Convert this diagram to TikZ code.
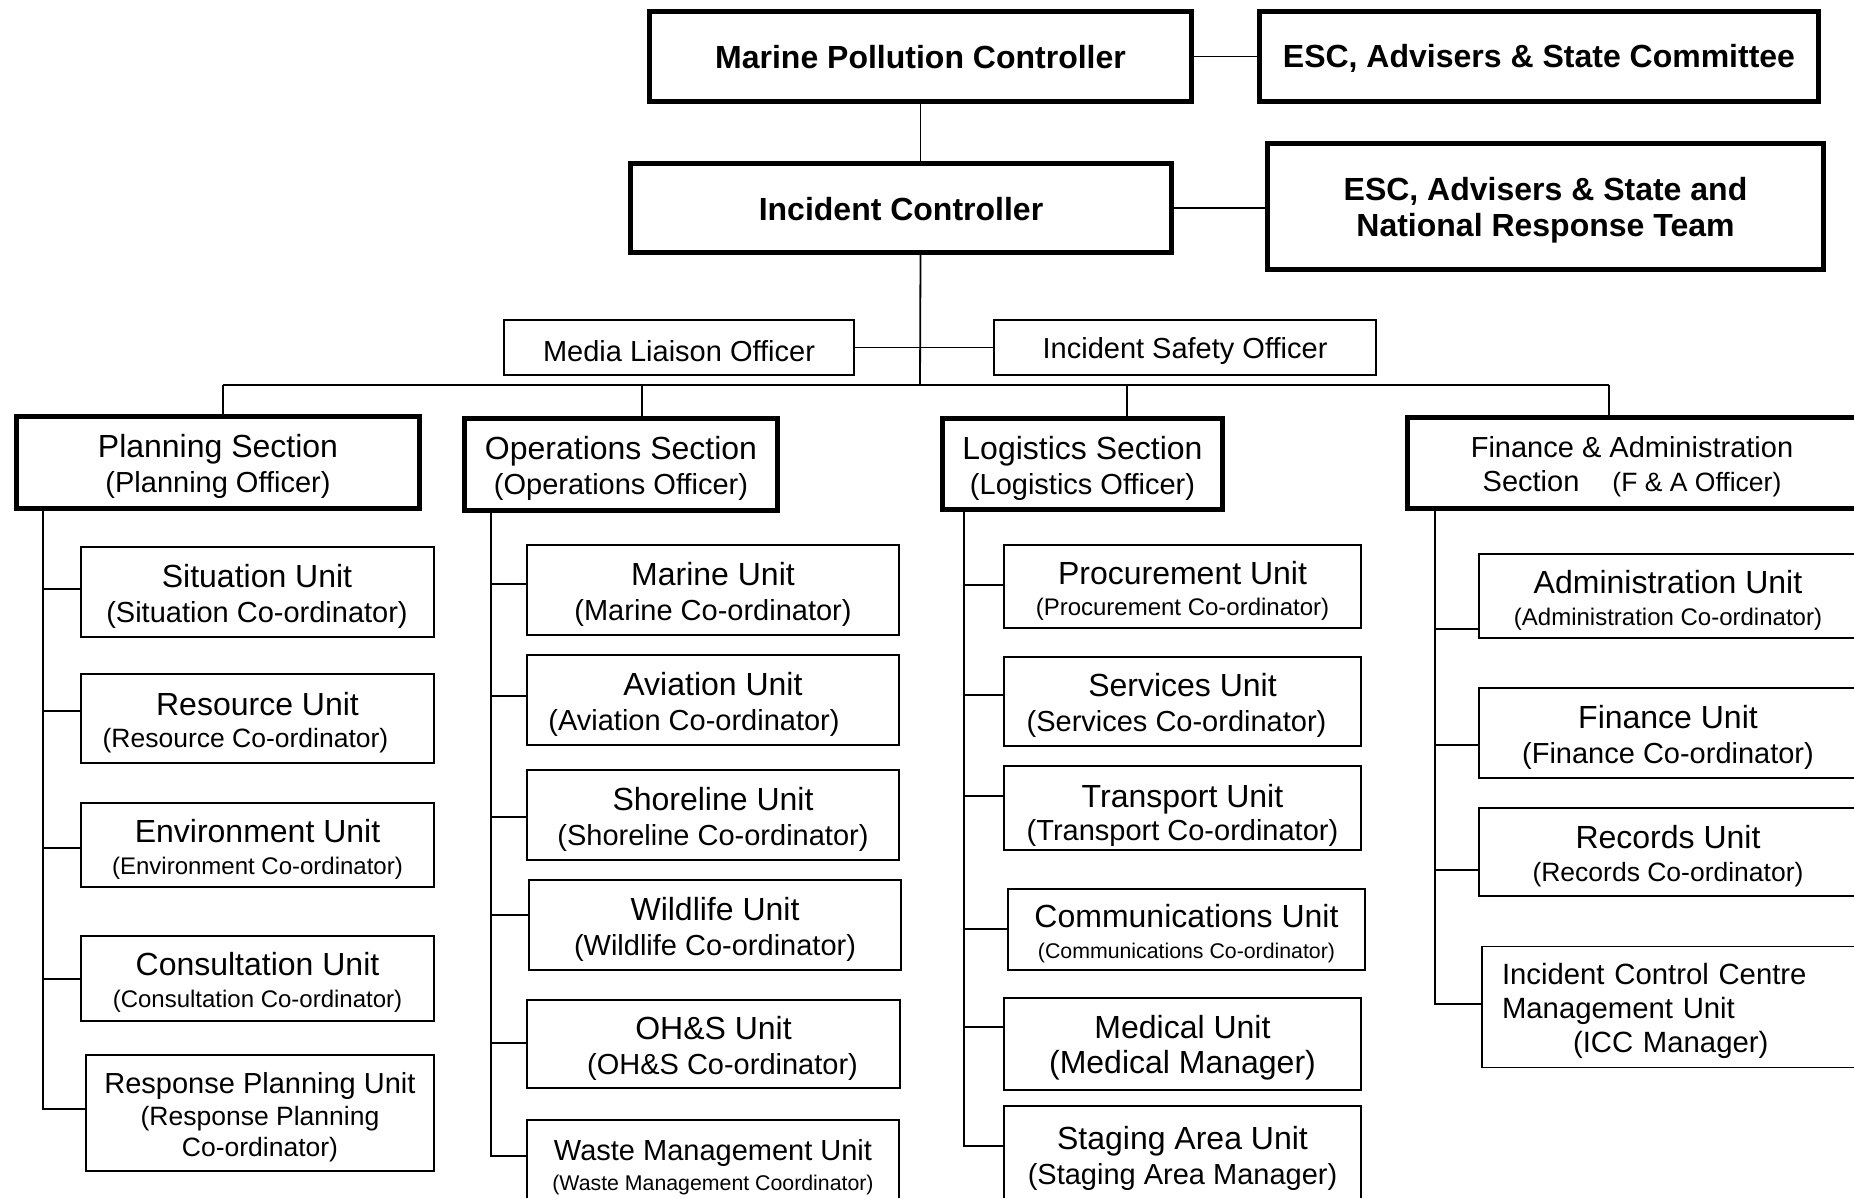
\documentclass[tikz,border=0pt]{standalone}
\usepackage{fontspec}
\setmainfont{Liberation Sans}
\newcommand{\uTitle}[1]{{\fontsize{32}{35}\selectfont #1}}
\newcommand{\uHead}[1]{{\fontsize{32}{35}\selectfont\rule{0pt}{31pt}#1}}
\newcommand{\upS}{\rule{0pt}{28.5pt}}
\newcommand{\uSubA}[1]{{\fontsize{26.5}{31}\selectfont #1}}
\newcommand{\uSubB}[1]{{\fontsize{24}{29}\selectfont #1}}
\newcommand{\uSubC}[1]{{\fontsize{21.3}{26}\selectfont #1}}
\tikzset{
  orgbox/.style={draw, line width=2pt, inner sep=0pt, align=center, font=\fontsize{29}{35}\selectfont, fill=white},
  secbox/.style={orgbox, line width=5pt},
  topbox/.style={orgbox, line width=5pt, font=\bfseries\fontsize{32}{36}\selectfont},
  thinbox/.style={orgbox, line width=1.2pt},
  conn/.style={line width=1.8pt},
}
\begin{document}
\begin{tikzpicture}[x=1pt,y=-1pt]
\useasboundingbox (0,0) rectangle (1854,1197);
\clip (0,0) rectangle (1854,1197);
\fill[white] (0,0) rectangle (1854,1197);

% top level
\node[topbox, minimum width=542, minimum height=90] (mpc) at (920.5,56.5) {\rule{0pt}{25pt}Marine Pollution Controller};
\node[topbox, minimum width=559, minimum height=90] (esc1) at (1539,56.5) {\rule{0pt}{26pt}ESC, Advisers \& State Committee};
\node[topbox, minimum width=541, minimum height=89] (ic) at (901,208) {\rule{0pt}{25pt}Incident Controller};
\node[topbox, minimum width=556, minimum height=126] (esc2) at (1545.5,206.5) {\rule{0pt}{31pt}ESC, Advisers \& State and\\National Response Team};
\node[orgbox, minimum width=350, minimum height=55] (media) at (679,347.5) {\rule{0pt}{27.5pt}Media Liaison Officer};
\node[orgbox, minimum width=382, minimum height=55] (safety) at (1185,347.5) {\rule{0pt}{27.5pt}Incident Safety Officer};

% sections
\node[secbox, minimum width=403, minimum height=92] (plan) at (218,462.5) {\uHead{Planning Section}\\(Planning Officer)};
\node[secbox, minimum width=313, minimum height=92] (ops) at (621,464.5) {\uHead{Operations Section}\\(Operations Officer)};
\node[secbox, minimum width=280, minimum height=91] (log) at (1082.5,464) {\uHead{Logistics Section}\\(Logistics Officer)};
\node[secbox, minimum width=449, minimum height=91] (fin) at (1632,463) {\upS Finance \& Administration\\[-1pt]Section\hspace{25pt} \uSubA{(F \& A Officer)}};

% planning units
\node[orgbox, minimum width=353, minimum height=90] (sit) at (257,592) {\uHead{Situation Unit}\\(Situation Co-ordinator)};
\node[orgbox, minimum width=353, minimum height=89] (res) at (257.5,718.5) {\uHead{Resource Unit}\\[-3pt]\uSubA{(Resource Co-ordinator)}\hspace*{24pt}};
\node[orgbox, minimum width=353, minimum height=84] (env) at (257.5,845) {\uHead{Environment Unit}\\[-3pt]\uSubB{(Environment Co-ordinator)}};
\node[orgbox, minimum width=353, minimum height=85] (cons) at (257.5,978.5) {\uHead{Consultation Unit}\\[-3pt]\uSubB{(Consultation Co-ordinator)}};
\node[orgbox, minimum width=348, minimum height=116] (rp) at (260,1113) {\upS Response Planning Unit\\[-3pt]\uSubA{(Response Planning}\\[-4pt]\uSubA{Co-ordinator)}};

% operations units
\node[orgbox, minimum width=372, minimum height=90] (mar) at (713,590) {\uHead{Marine Unit}\\(Marine Co-ordinator)};
\node[orgbox, minimum width=372, minimum height=90] (avi) at (713,700) {\uHead{Aviation Unit}\\(Aviation Co-ordinator)\hspace*{38pt}};
\node[orgbox, minimum width=372, minimum height=90] (sho) at (713,815) {\uHead{Shoreline Unit}\\(Shoreline Co-ordinator)};
\node[orgbox, minimum width=372, minimum height=90] (wil) at (715,925) {\uHead{Wildlife Unit}\\(Wildlife Co-ordinator)};
\node[orgbox, minimum width=373, minimum height=88] (ohs) at (713.5,1044) {\uHead{OH\&S Unit}\\\hspace*{18pt}(OH\&S Co-ordinator)};
\node[orgbox, minimum width=372, minimum height=86] (was) at (713,1163) {\upS Waste Management Unit\\[-5pt]\uSubC{(Waste Management Coordinator)}};

% logistics units
\node[orgbox, minimum width=357, minimum height=83] (pro) at (1182.5,586.5) {\uHead{Procurement Unit}\\[-4pt]\uSubB{(Procurement Co-ordinator)}};
\node[orgbox, minimum width=357, minimum height=89] (ser) at (1182.5,701.5) {\uHead{Services Unit}\\(Services Co-ordinator)\hspace*{12pt}};
\node[orgbox, minimum width=357, minimum height=84] (tra) at (1182.5,808) {\uTitle{\rule{0pt}{37pt}Transport Unit}\\[-2pt](Transport Co-ordinator)};
\node[orgbox, minimum width=357, minimum height=81] (com) at (1186.5,929.5) {\uHead{Communications Unit}\\[-4pt]\uSubC{(Communications Co-ordinator)}};
\node[orgbox, minimum width=357, minimum height=92] (med) at (1182.5,1044) {\uHead{Medical Unit}\\\uTitle{(Medical Manager)}};
\node[orgbox, minimum width=357, minimum height=97] (sta) at (1182.5,1154.5) {\uHead{Staging Area Unit}\\(Staging Area Manager)};

% finance units
\node[orgbox, minimum width=378, minimum height=84] (adm) at (1668,596) {\uHead{Administration Unit}\\[-3pt]\uSubB{(Administration Co-ordinator)}};
\node[orgbox, minimum width=378, minimum height=90] (fiu) at (1668,733) {\uHead{Finance Unit}\\(Finance Co-ordinator)};
\node[orgbox, minimum width=378, minimum height=88] (rec) at (1668,852) {\uHead{Records Unit}\\[-2pt]\uSubA{(Records Co-ordinator)}};
\node[thinbox, minimum height=121, text width=336, inner xsep=20pt, align=left, font=\fontsize{29.3}{34}\selectfont] (icc) at (1670,1007) {\upS Incident Control Centre\\Management Unit\\\hspace*{71pt}(ICC Manager)};

% top connectors
\draw[conn] (mpc.east) -- (esc1.west);
\draw[conn] (mpc.south) -- (mpc.south |- ic.north);
\draw[conn] (ic.east) -- (ic.east -| esc2.west);
\coordinate (bus) at (920,385);
\draw[conn] (mpc.south |- ic.south) -- (bus);
\draw[conn] (media.east) -- (safety.west);
\coordinate (bp) at (223,385);
\coordinate (bo) at (642,385);
\coordinate (bl) at (1127,385);
\coordinate (bf) at (1609,385);
\draw[conn] (bp) -- (bf);
\draw[conn] (bp) -- (bp |- plan.north);
\draw[conn] (bo) -- (bo |- ops.north);
\draw[conn] (bl) -- (bl |- log.north);
\draw[conn] (bf) -- (bf |- fin.north);

% planning tree
\draw[conn] (plan.south -| 43,0) -- (43,1109) -- (rp.west |- 0,1109);
\draw[conn] (43,589) -- (sit.west |- 0,589);
\draw[conn] (43,711) -- (res.west |- 0,711);
\draw[conn] (43,848) -- (env.west |- 0,848);
\draw[conn] (43,979) -- (cons.west |- 0,979);

% operations tree
\draw[conn] (ops.south -| 491,0) -- (491,1156) -- (was.west |- 0,1156);
\draw[conn] (491,584) -- (mar.west |- 0,584);
\draw[conn] (491,696) -- (avi.west |- 0,696);
\draw[conn] (491,817) -- (sho.west |- 0,817);
\draw[conn] (491,915) -- (wil.west |- 0,915);
\draw[conn] (491,1043) -- (ohs.west |- 0,1043);

% logistics tree
\draw[conn] (log.south -| 964,0) -- (964,1146) -- (sta.west |- 0,1146);
\draw[conn] (964,585) -- (pro.west |- 0,585);
\draw[conn] (964,695) -- (ser.west |- 0,695);
\draw[conn] (964,796) -- (tra.west |- 0,796);
\draw[conn] (964,929) -- (com.west |- 0,929);
\draw[conn] (964,1027) -- (med.west |- 0,1027);

% finance tree
\draw[conn] (fin.south -| 1435,0) -- (1435,1004) -- (icc.west |- 0,1004);
\draw[conn] (1435,629) -- (adm.west |- 0,629);
\draw[conn] (1435,745) -- (fiu.west |- 0,745);
\draw[conn] (1435,870) -- (rec.west |- 0,870);
\end{tikzpicture}
\end{document}
